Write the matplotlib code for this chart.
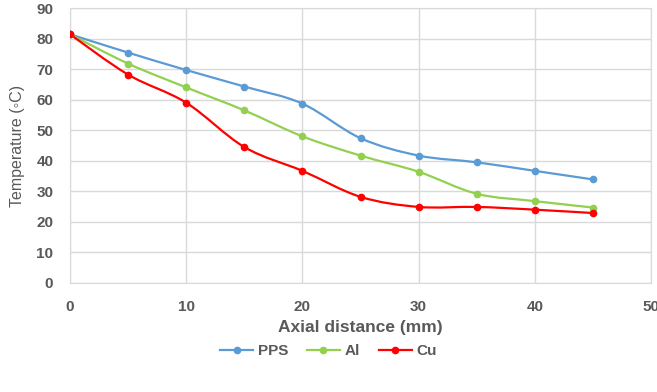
import matplotlib.pyplot as plt
import numpy as np
from matplotlib.path import Path
from matplotlib.patches import PathPatch

# Colors used in the plot
BLUE = '#5B9BD5'
GREEN = '#92D050'
RED = '#FF0000'
GRAY = '#595959'
GRID = '#D9D9D9'

# Data
distance = [0, 5, 10, 15, 20, 25, 30, 35, 40, 45]
pps = [81.4, 75.4, 69.7, 64.3, 58.7, 47.4, 41.7, 39.5, 36.7, 33.9]
al = [81.4, 71.8, 64.0, 56.5, 48.0, 41.7, 36.4, 29.2, 26.8, 24.7]
cu = [81.4, 68.2, 59.0, 44.5, 36.7, 28.2, 24.9, 24.9, 24.0, 22.9]

series = [("PPS", pps, BLUE), ("Al", al, GREEN), ("Cu", cu, RED)]


# Excel-like smoothed line: cubic bezier segments through the points
def smooth_path(x, y):
    pts = np.column_stack([x, y]).astype(float)
    n = len(pts)
    verts = [pts[0]]
    codes = [Path.MOVETO]
    for i in range(n - 1):
        p0 = pts[i - 1] if i > 0 else pts[i]
        p1 = pts[i]
        p2 = pts[i + 1]
        p3 = pts[i + 2] if i + 2 < n else pts[i + 1]
        c1 = p1 + (p2 - p0) / 6.0
        c2 = p2 - (p3 - p1) / 6.0
        verts += [c1, c2, p2]
        codes += [Path.CURVE4] * 3
    return Path(verts, codes)


plt.rcParams['font.family'] = ['Liberation Sans', 'DejaVu Sans']

fig = plt.figure(figsize=(6.57, 3.92), dpi=100)
ax = fig.add_axes([70 / 657, 1 - 283 / 392, 581 / 657, 275 / 392])

for name, vals, color in series:
    ax.add_patch(PathPatch(smooth_path(distance, vals), facecolor='none',
                           edgecolor=color, linewidth=1.6, zorder=3))
    ax.plot(distance, vals, linestyle='none', marker='o', markersize=4.5,
            color=color, label=name, zorder=4)

ax.set_xlim(0, 50)
ax.set_ylim(0, 90)
ax.set_xticks(np.arange(0, 51, 10))
ax.set_yticks(np.arange(0, 91, 10))
ax.grid(True, color=GRID, linewidth=1)
ax.set_axisbelow(True)
for s in ax.spines.values():
    s.set_color(GRID)
ax.tick_params(length=0, colors=GRAY, labelsize=11)
ax.tick_params(axis='x', pad=12)
ax.tick_params(axis='y', pad=12)
for lbl in ax.get_xticklabels() + ax.get_yticklabels():
    lbl.set_fontweight('bold')

ax.set_xlabel("Axial distance (mm)", fontsize=12.5, fontweight='bold', color=GRAY)
ax.set_ylabel("Temperature (\u25e6C)", fontsize=11.5, color=GRAY)
ax.xaxis.set_label_coords(0.5, (283 - 320) / 275)
ax.yaxis.set_label_coords((25 - 70) / 581, 0.5)

handles = [plt.Line2D([], [], color=c, marker='o', markersize=4.5, linewidth=1.6)
           for _, _, c in series]
leg = fig.legend(handles, [n for n, _, _ in series], loc='center', ncol=3,
                 bbox_to_anchor=(0.5, 1 - 351 / 392), frameon=False,
                 handlelength=2.2, columnspacing=1.2, handletextpad=0.3,
                 prop={'weight': 'bold', 'size': 11})
for t in leg.get_texts():
    t.set_color(GRAY)

fig.savefig("out.png", dpi=100)
